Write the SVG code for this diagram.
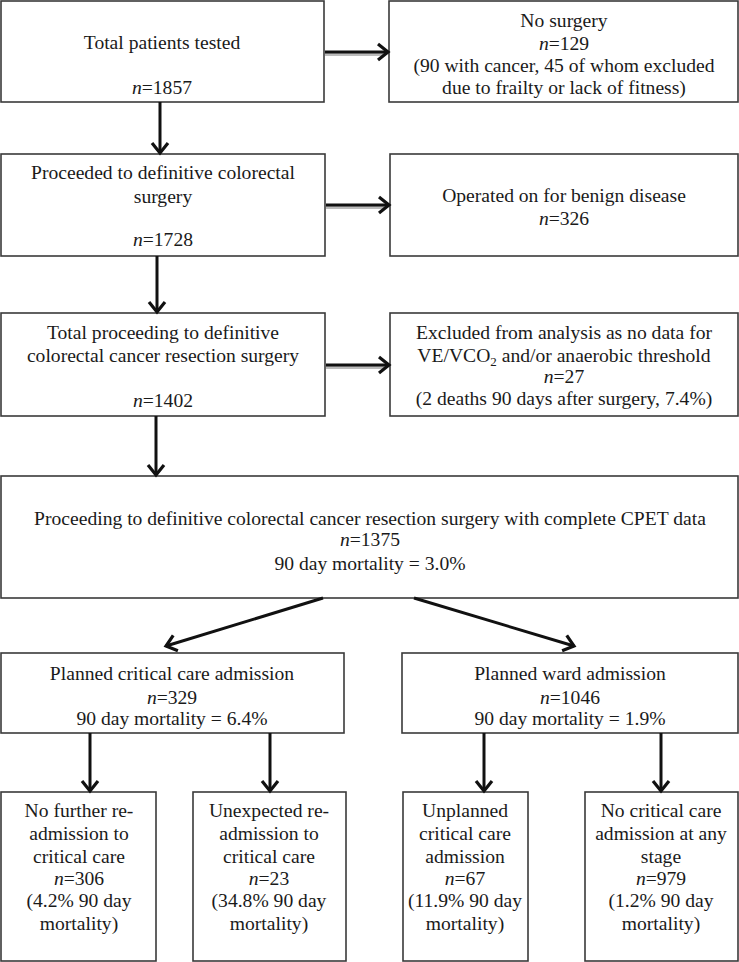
<svg xmlns="http://www.w3.org/2000/svg" width="739" height="962" viewBox="0 0 739 962">
<defs>
<style>
.box{fill:#fff;stroke:#3a3a3a;stroke-width:1.6}
.t{font-family:"Liberation Serif","Times New Roman",serif;font-size:19.6px;fill:#1a1a1a;text-anchor:middle}
.i{font-style:italic}
.c{stroke:#111;stroke-width:3;fill:none}
.sh{stroke:#bbb;stroke-width:3;fill:none}
</style>
<marker id="ah" markerUnits="userSpaceOnUse" markerWidth="20" markerHeight="20" viewBox="-12 -10 14 20" refX="0" refY="0" orient="auto">
<path d="M-10,-8 L0,0 L-10,8" fill="none" stroke="#111" stroke-width="3.2" stroke-linejoin="miter"/>
</marker>
</defs>
<rect width="739" height="962" fill="#fff"/>

<g id="n1"><rect class="box" x="1" y="1" width="323" height="101"/>
<text class="t" x="162" y="49">Total patients tested</text>
<text class="t" x="162" y="94"><tspan class="i">n</tspan>=1857</text></g>

<g id="n2"><rect class="box" x="389" y="1" width="349" height="101"/>
<text class="t" x="564" y="27">No surgery</text>
<text class="t" x="564" y="50"><tspan class="i">n</tspan>=129</text>
<text class="t" x="564" y="72">(90 with cancer, 45 of whom excluded</text>
<text class="t" x="564" y="94">due to frailty or lack of fitness)</text></g>

<g id="n3"><rect class="box" x="1" y="154" width="324" height="102"/>
<text class="t" x="163" y="179">Proceeded to definitive colorectal</text>
<text class="t" x="163" y="203">surgery</text>
<text class="t" x="163" y="246"><tspan class="i">n</tspan>=1728</text></g>

<g id="n4"><rect class="box" x="390" y="154" width="348" height="102"/>
<text class="t" x="564" y="202">Operated on for benign disease</text>
<text class="t" x="564" y="225"><tspan class="i">n</tspan>=326</text></g>

<g id="n5"><rect class="box" x="1" y="313" width="324" height="103"/>
<text class="t" x="163" y="339">Total proceeding to definitive</text>
<text class="t" x="163" y="362">colorectal cancer resection surgery</text>
<text class="t" x="163" y="407"><tspan class="i">n</tspan>=1402</text></g>

<g id="n6"><rect class="box" x="390" y="313" width="348" height="103"/>
<text class="t" x="564" y="339">Excluded from analysis as no data for</text>
<text class="t" x="564" y="362">VE/VCO<tspan font-size="13" dy="4">2</tspan><tspan dy="-4"> and/or anaerobic threshold</tspan></text>
<text class="t" x="564" y="383"><tspan class="i">n</tspan>=27</text>
<text class="t" x="564" y="405">(2 deaths 90 days after surgery, 7.4%)</text></g>

<g id="n7"><rect class="box" x="1" y="476" width="737" height="122"/>
<text class="t" x="370" y="525">Proceeding to definitive colorectal cancer resection surgery with complete CPET data</text>
<text class="t" x="370" y="546"><tspan class="i">n</tspan>=1375</text>
<text class="t" x="370" y="570">90 day mortality = 3.0%</text></g>

<g id="n8"><rect class="box" x="1" y="653" width="343" height="80"/>
<text class="t" x="172" y="680">Planned critical care admission</text>
<text class="t" x="172" y="704"><tspan class="i">n</tspan>=329</text>
<text class="t" x="172" y="725">90 day mortality = 6.4%</text></g>

<g id="n9"><rect class="box" x="402" y="653" width="336" height="80"/>
<text class="t" x="570" y="680">Planned ward admission</text>
<text class="t" x="570" y="704"><tspan class="i">n</tspan>=1046</text>
<text class="t" x="570" y="725">90 day mortality = 1.9%</text></g>

<g id="n10"><rect class="box" x="1" y="792" width="155" height="169"/>
<text class="t" x="79" y="817">No further re-</text>
<text class="t" x="79" y="840">admission to</text>
<text class="t" x="79" y="863">critical care</text>
<text class="t" x="79" y="885"><tspan class="i">n</tspan>=306</text>
<text class="t" x="79" y="907">(4.2% 90 day</text>
<text class="t" x="79" y="930">mortality)</text></g>

<g id="n11"><rect class="box" x="193" y="792" width="153" height="169"/>
<text class="t" x="269" y="817">Unexpected re-</text>
<text class="t" x="269" y="840">admission to</text>
<text class="t" x="269" y="863">critical care</text>
<text class="t" x="269" y="885"><tspan class="i">n</tspan>=23</text>
<text class="t" x="269" y="907">(34.8% 90 day</text>
<text class="t" x="269" y="930">mortality)</text></g>

<g id="n12"><rect class="box" x="403" y="792" width="125" height="169"/>
<text class="t" x="465" y="817">Unplanned</text>
<text class="t" x="465" y="840">critical care</text>
<text class="t" x="465" y="863">admission</text>
<text class="t" x="465" y="885"><tspan class="i">n</tspan>=67</text>
<text class="t" x="465" y="907">(11.9% 90 day</text>
<text class="t" x="465" y="930">mortality)</text></g>

<g id="n13"><rect class="box" x="585" y="792" width="153" height="169"/>
<text class="t" x="661" y="817">No critical care</text>
<text class="t" x="661" y="840">admission at any</text>
<text class="t" x="661" y="863">stage</text>
<text class="t" x="661" y="885"><tspan class="i">n</tspan>=979</text>
<text class="t" x="661" y="907">(1.2% 90 day</text>
<text class="t" x="661" y="930">mortality)</text></g>

<g id="connectors">
<line class="sh" x1="325" y1="54.5" x2="385" y2="54.5"/>
<line class="c" x1="325" y1="52" x2="388" y2="52" stroke-width="4" marker-end="url(#ah)"/>
<line class="sh" x1="326" y1="207.5" x2="386" y2="207.5"/>
<line class="c" x1="326" y1="205" x2="389" y2="205" stroke-width="4" marker-end="url(#ah)"/>
<line class="sh" x1="326" y1="367.5" x2="386" y2="367.5"/>
<line class="c" x1="326" y1="365" x2="389" y2="365" stroke-width="4" marker-end="url(#ah)"/>
<line class="c" x1="160" y1="102" x2="160" y2="153" marker-end="url(#ah)"/>
<line class="c" x1="157" y1="256" x2="157" y2="312" marker-end="url(#ah)"/>
<line class="c" x1="156" y1="416" x2="156" y2="475" marker-end="url(#ah)"/>
<line class="c" x1="323" y1="598" x2="166" y2="646" marker-end="url(#ah)"/>
<line class="c" x1="414" y1="598" x2="574" y2="646" marker-end="url(#ah)"/>
<line class="c" x1="90" y1="733" x2="90" y2="791" marker-end="url(#ah)"/>
<line class="c" x1="270" y1="733" x2="270" y2="791" marker-end="url(#ah)"/>
<line class="c" x1="484" y1="733" x2="484" y2="791" marker-end="url(#ah)"/>
<line class="c" x1="661" y1="733" x2="661" y2="791" marker-end="url(#ah)"/>
</g>
</svg>
